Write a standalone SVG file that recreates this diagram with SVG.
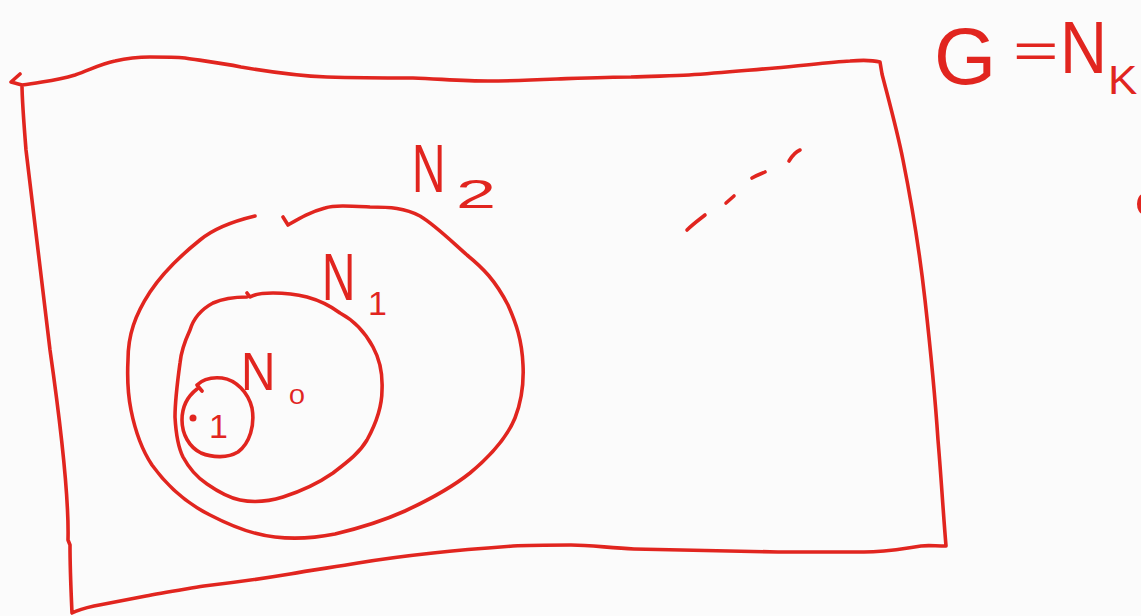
<svg xmlns="http://www.w3.org/2000/svg" width="1141" height="616" viewBox="0 0 1141 616">
<style>
.ink{fill:none;stroke:#e1251f;stroke-width:3.6;stroke-linecap:round;stroke-linejoin:round}
.lbl{fill:#e1251f;font-family:"Liberation Sans",Arial,sans-serif}
.dot{fill:#e1251f}
</style>
<rect width="1141" height="616" fill="#fbfbfb"/>
<g id="frame">
<path class="ink" d="M20,74 L11,82 L22,85 C30,84 36,83 42,82 C55,80 65,78 75,75 C90,70 100,64 115,61 C128,58 140,57 150,57 C165,57 175,57 185,58 C205,61 222,63 241,67 C270,72 300,76 327,77 C360,78 390,78 413,78 C440,79 465,81 488,81 C510,81 535,80 557,79 C585,78 610,77 631,77 C655,76 672,76 689,75 C720,73 750,70 775,68 C800,66 830,62 850,61 C862,60 872,60 880,62 L882,74 C890,105 897,130 903,160 C912,205 920,255 925,300 C930,345 935,395 938,440 C941,475 943,510 946,546 C935,546 928,545 921,546 C900,549 885,552 864,552 C835,552 805,552 778,552 C740,551 690,550 634,549 C610,548 590,545 571,545 C550,545 530,545 513,546 C485,548 460,550 433,553 C405,556 382,559 358,563 C335,567 312,570 290,574 C260,579 230,583 204,586 C180,590 160,593 146,596 C125,600 110,603 94,606 C85,608 78,610 72,613 C71,590 70,570 70,545 L68,540 C69,500 60,420 50,350 C42,280 33,210 26,150 C24,125 22,100 22,85"/>
</g>
<g id="N2">
<path class="ink" d="M255,216 C230,222 212,230 200,240 C175,260 158,280 150,292 C135,315 128,335 128,360 C127,380 128,395 131,410 C136,435 142,450 152,465 C170,490 190,505 210,515 C235,528 255,535 275,537 C300,540 320,537 335,534 C360,528 385,520 405,511 C435,497 455,485 470,473 C495,452 508,435 515,418 C522,400 524,385 523,365 C522,340 516,323 508,305 C495,280 483,268 467,255 C450,240 435,225 420,216 C405,208 390,207 370,207 C350,206 335,205 325,208 C310,212 300,218 288,225 L283,217"/>
<text class="lbl" font-size="68" transform="translate(412,192) scale(0.68,1)">N</text>
<text class="lbl" font-size="40" transform="translate(456,208) scale(1.8,1)">2</text>
</g>
<g id="N1">
<path class="ink" d="M247,297 C235,297 222,299 213,303 C200,310 193,320 190,330 C184,343 181,352 180,363 C177,385 175,400 175,417 C176,435 178,447 183,457 C190,470 198,478 207,484 C220,493 230,498 240,500 C255,503 270,501 283,497 C305,490 320,482 333,473 C350,460 360,452 367,440 C378,420 382,405 382,390 C383,370 379,358 373,347 C365,332 353,320 340,313 C328,304 318,300 307,297 C295,294 283,293 273,293 C262,293 255,294 250,297 L247,293"/>
<text class="lbl" font-size="66" transform="translate(322,300) scale(0.7,1)">N</text>
<text class="lbl" font-size="34" transform="translate(368,315)">1</text>
</g>
<g id="N0">
<path class="ink" d="M202,391 L197,385 C203,379 212,377 222,378 C236,380 248,392 252,408 C255,425 250,443 238,452 C228,458 213,458 201,453 C189,447 182,434 182,420 C182,406 188,396 197,389"/>
<ellipse class="dot" cx="193" cy="418" rx="3.5" ry="3.5"/>
<text class="lbl" font-size="34" x="209" y="438">1</text>
<text class="lbl" font-size="53" transform="translate(241,390) scale(0.9,1)">N</text>
<text class="lbl" font-size="22" transform="translate(289,404) scale(1.3,1)">0</text>
</g>
<g id="dots">
<path class="ink" d="M687,230 C693,224 700,219 705,215"/>
<path class="ink" d="M726,203 L734,196"/>
<path class="ink" d="M752,178 C757,175 761,174 765,172"/>
<path class="ink" d="M789,161 C792,156 795,152 800,150"/>
</g>
<g id="GNk">
<text class="lbl" font-size="80" x="934" y="84">G</text>
<text class="lbl" font-size="60" transform="translate(1013,67) scale(1.3,0.8)">=</text>
<text class="lbl" font-size="74" transform="translate(1060,73) scale(0.88,1)">N</text>
<text class="lbl" font-size="40" transform="translate(1108,94) scale(1.1,1)">K</text>
</g>
<ellipse class="dot" cx="1143" cy="204" rx="6" ry="10"/>
</svg>
